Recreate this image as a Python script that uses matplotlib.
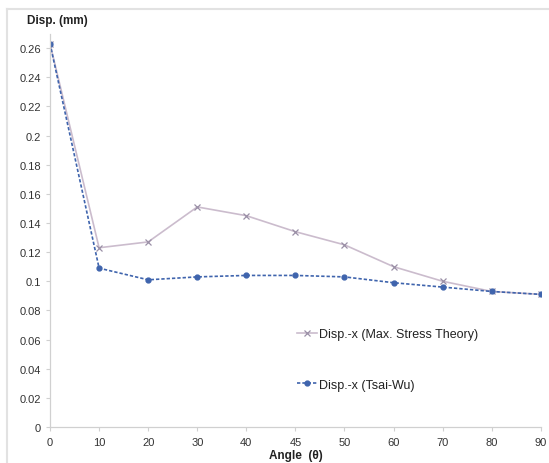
import numpy as np
import matplotlib.pyplot as plt
from matplotlib.lines import Line2D

plt.rcParams['font.family'] = ['Liberation Sans', 'DejaVu Sans']

angles = ['0', '10', '20', '30', '40', '45', '50', '60', '70', '80', '90']
disp_max_stress = [0.263, 0.123, 0.127, 0.151, 0.145, 0.134, 0.125, 0.110, 0.100, 0.093, 0.091]
disp_tsai_wu = [0.263, 0.109, 0.101, 0.103, 0.104, 0.104, 0.103, 0.099, 0.096, 0.093, 0.091]
y_ticks = [0, 0.02, 0.04, 0.06, 0.08, 0.1, 0.12, 0.14, 0.16, 0.18, 0.2, 0.22, 0.24, 0.26]

fig = plt.figure(figsize=(5.49, 4.64), dpi=100)
ax = fig.add_axes([0.0911, 0.0776, 0.894, 0.848])

x = np.arange(len(angles))
ax.plot(x, disp_max_stress, color='#cbbccd', linewidth=1.2, marker='x',
        markersize=4, markeredgecolor='#9a8fa6', markeredgewidth=0.9,
        label='Disp.-x (Max. Stress Theory)')
ax.plot(x, disp_tsai_wu, color='#3f64ad', linewidth=1.2, linestyle=(0, (2, 1.2)),
        marker='o', markersize=3.5, markerfacecolor='#3f64ad', markeredgecolor='#3f64ad',
        label='Disp.-x (Tsai-Wu)')

ax.set_xlim(0, len(angles) - 1)
ax.set_ylim(0, 0.27)
ax.set_xticks(x)
ax.set_xticklabels(angles)
ax.set_yticks(y_ticks)
ax.set_yticklabels([f'{v:g}' for v in y_ticks])

for side in ['top', 'right']:
    ax.spines[side].set_visible(False)
for side in ['left', 'bottom']:
    ax.spines[side].set_color('#d0d0d0')
    ax.spines[side].set_linewidth(0.9)
ax.tick_params(axis='both', colors='#d0d0d0', labelcolor='#333333', labelsize=8,
               length=3, width=0.8)
ax.tick_params(axis='x', pad=4)

ax.set_xlabel('Angle  (\u03b8)', fontsize=8.5, fontweight='bold', color='#222222', labelpad=2)
fig.text(0.049, 0.955, 'Disp. (mm)', fontsize=8.5, fontweight='bold', color='#222222',
         ha='left', va='center')

ax.legend(loc='upper left', bbox_to_anchor=(0.481, 0.28), frameon=False, fontsize=9,
          labelspacing=3.1, handlelength=1.6, handletextpad=0.15, labelcolor='#222222')

# light frame along the top and left of the chart area
fig.add_artist(Line2D([0.013, 1.0], [0.978, 0.978], color='#e2e2e2', linewidth=1.5))
fig.add_artist(Line2D([0.013, 0.013], [0.0, 0.978], color='#e2e2e2', linewidth=1.5))

fig.savefig('out.png', dpi=100)
